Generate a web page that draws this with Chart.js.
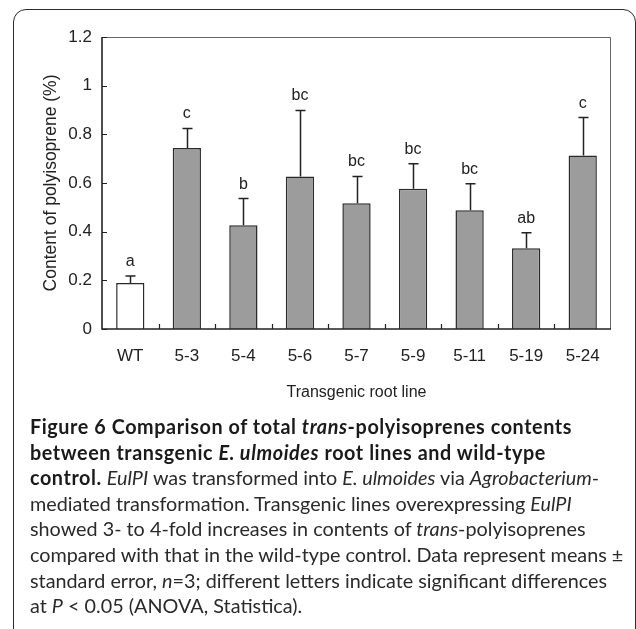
<!DOCTYPE html>
<html>
<head>
<meta charset="utf-8">
<script src="https://cdn.jsdelivr.net/npm/chart.js@4.4.0/dist/chart.umd.min.js"></script>
<style>
  html, body { margin: 0; padding: 0; background: #fff; width: 636px; height: 629px; overflow: hidden; }
  #frame { position: absolute; left: 13px; top: 9px; width: 623px; height: 680px; border: 1.5px solid #2b2b2b; border-radius: 13px; box-sizing: border-box; }
  #chartBox { position: absolute; left: 0; top: 0; width: 636px; height: 420px; }
  #caption { position: absolute; left: 30px; top: 414px; font-family: Lato, 'Open Sans', sans-serif; font-size: 20px; color: #2a2a2a; transform-origin: 0 0; white-space: nowrap; }
  #caption div { height: 25.6px; line-height: 25.6px; }
  #caption b { color: #1a1a1a; }
</style>
</head>
<body>
<div id="frame"></div>
<div id="chartBox"><canvas id="polyChart" width="636" height="420"></canvas></div>
<div id="caption">
  <div><span id="capFirst"><b>Figure 6 Comparison of total <i>trans</i>-polyisoprenes contents</b></span></div>
  <div><b>between transgenic <i>E. ulmoides</i> root lines and wild-type</b></div>
  <div><b>control.</b> <i>EulPI</i> was transformed into <i>E. ulmoides</i> via <i>Agrobacterium</i>-</div>
  <div>mediated transformation. Transgenic lines overexpressing <i>EulPI</i></div>
  <div>showed 3- to 4-fold increases in contents of <i>trans</i>-polyisoprenes</div>
  <div>compared with that in the wild-type control. Data represent means ±</div>
  <div><span id="capLong">standard error, <i>n</i>=3; different letters indicate significant differences</span></div>
  <div>at <i>P</i> &lt; 0.05 (ANOVA, Statistica).</div>
</div>
<script>
const categories = ['WT', '5-3', '5-4', '5-6', '5-7', '5-9', '5-11', '5-19', '5-24'];
const means = [0.189, 0.744, 0.426, 0.627, 0.517, 0.576, 0.488, 0.332, 0.713];
const stdErrors = [0.029, 0.080, 0.110, 0.271, 0.110, 0.103, 0.109, 0.064, 0.156];
const sigLetters = ['a', 'c', 'b', 'bc', 'bc', 'bc', 'bc', 'ab', 'c'];
const yTicks = [0, 0.2, 0.4, 0.6, 0.8, 1, 1.2];

const axisFont = 'Liberation Sans, Arial, sans-serif';

// squeeze the caption so its lines match the original widths
const capLong = document.getElementById('capLong');
const capFirst = document.getElementById('capFirst');
const capScale = 577 / capLong.getBoundingClientRect().width;
const firstText = capFirst.textContent;
const boldSpacing = (542 / capScale - capFirst.getBoundingClientRect().width) / firstText.length;
document.querySelectorAll('#caption b').forEach(b => { b.style.letterSpacing = boldSpacing + 'px'; });
document.getElementById('caption').style.transform = 'scaleX(' + capScale + ')';

// axes box, inward ticks, error bars and significance letters
const figureDecor = {
  id: 'figureDecor',
  afterDatasetsDraw(chart) {
    const { ctx, chartArea: a, scales: { x, y } } = chart;
    ctx.save();

    ctx.strokeStyle = '#666';
    ctx.lineWidth = 1;
    ctx.beginPath();
    ctx.moveTo(a.left, a.top + 0.5);
    ctx.lineTo(a.right - 0.5, a.top + 0.5);
    ctx.lineTo(a.right - 0.5, a.bottom);
    ctx.stroke();

    ctx.strokeStyle = '#222';
    ctx.lineWidth = 1.6;
    ctx.beginPath();
    ctx.moveTo(a.left, a.top);
    ctx.lineTo(a.left, a.bottom);
    ctx.lineTo(a.right, a.bottom);
    ctx.stroke();

    ctx.lineWidth = 1.2;
    ctx.beginPath();
    yTicks.forEach(v => {
      const py = Math.round(y.getPixelForValue(v)) + 0.5;
      ctx.moveTo(a.left, py);
      ctx.lineTo(a.left + 5, py);
    });
    for (let i = 1; i < categories.length; i++) {
      const px = Math.round((x.getPixelForValue(i - 1) + x.getPixelForValue(i)) / 2) + 0.5;
      ctx.moveTo(px, a.bottom);
      ctx.lineTo(px, a.bottom - 5);
    }
    ctx.stroke();

    ctx.lineWidth = 1.5;
    ctx.fillStyle = '#222';
    ctx.font = '16px ' + axisFont;
    ctx.textAlign = 'center';
    ctx.textBaseline = 'alphabetic';
    chart.getDatasetMeta(0).data.forEach((bar, i) => {
      const cx = Math.round(bar.x) + 0.5;
      const top = y.getPixelForValue(means[i] + stdErrors[i]);
      const base = y.getPixelForValue(means[i]);
      ctx.beginPath();
      ctx.moveTo(cx, base);
      ctx.lineTo(cx, top);
      ctx.moveTo(cx - 5, top);
      ctx.lineTo(cx + 5, top);
      ctx.stroke();
      ctx.fillText(sigLetters[i], bar.x, top - 10);
    });
    ctx.restore();
  }
};

new Chart(document.getElementById('polyChart'), {
  type: 'bar',
  data: {
    labels: categories,
    datasets: [{
      data: means,
      backgroundColor: means.map((v, i) => i === 0 ? '#ffffff' : '#9c9c9c'),
      borderColor: '#2a2a2a',
      borderWidth: 1.5,
      barPercentage: 0.5,
      categoryPercentage: 1.0
    }]
  },
  options: {
    responsive: false,
    animation: false,
    devicePixelRatio: 1,
    layout: { padding: { left: 0, right: 25, top: 37, bottom: 0 } },
    plugins: { legend: { display: false }, tooltip: { enabled: false } },
    scales: {
      x: {
        grid: { display: false, drawTicks: false },
        border: { display: false },
        ticks: { color: '#222', font: { family: axisFont, size: 17 }, padding: 17 },
        title: { display: true, text: 'Transgenic root line', color: '#222', font: { family: axisFont, size: 16 }, padding: { top: 0, bottom: 18 } },
        afterFit: s => { s.height = 91; }
      },
      y: {
        min: 0,
        max: 1.2,
        grid: { display: false, drawTicks: false },
        border: { display: false },
        afterBuildTicks: s => { s.ticks = yTicks.map(v => ({ value: v })); },
        ticks: {
          color: '#222',
          font: { family: axisFont, size: 17 },
          padding: 10,
          callback: v => String(Number(v.toFixed(1)))
        },
        title: { display: true, text: 'Content of polyisoprene (%)', color: '#222', font: { family: axisFont, size: 17.5 }, padding: { top: 41, bottom: 0 } },
        afterFit: s => { s.width = 102; }
      }
    }
  },
  plugins: [figureDecor]
});
</script>
</body>
</html>
